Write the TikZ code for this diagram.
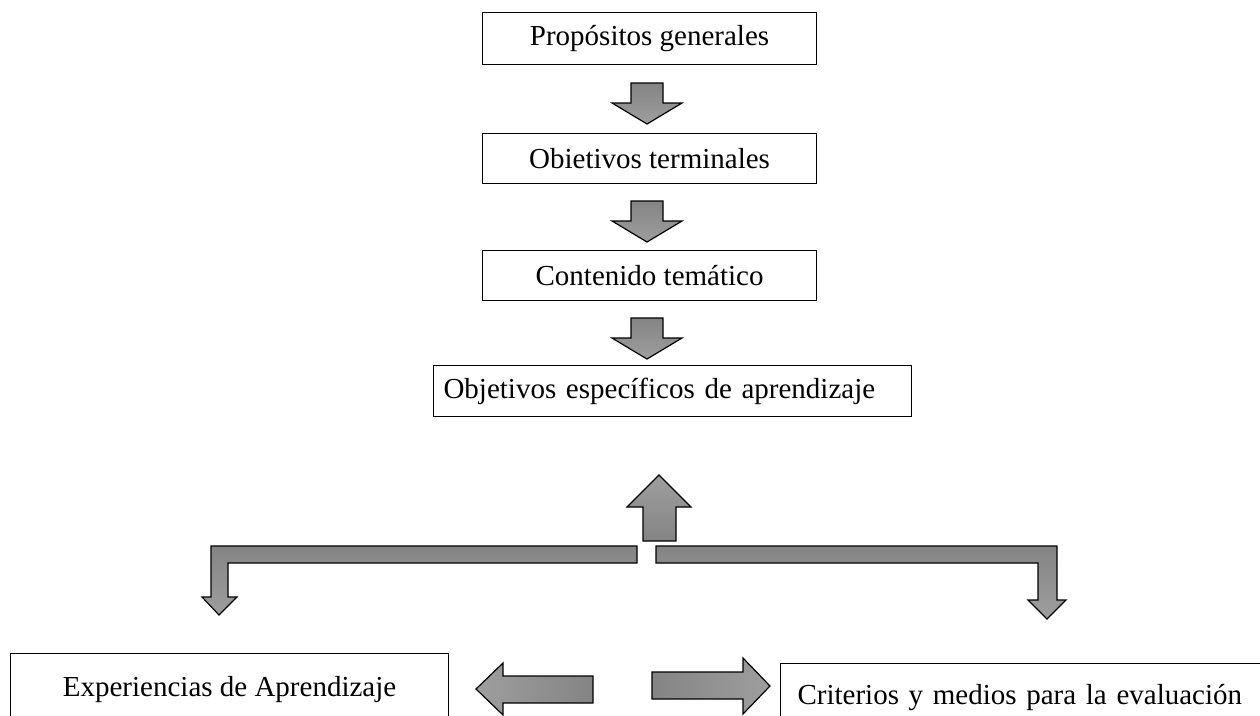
\documentclass[tikz,border=0pt]{standalone}
\usepackage{fontspec}
\setmainfont{Liberation Serif}
\definecolor{arrdark}{RGB}{132,132,132}
\definecolor{arrlight}{RGB}{158,158,158}
\begin{document}
\begin{tikzpicture}[x=1pt,y=-1pt,
  box/.style={draw=black, line width=1.1pt, fill=white, anchor=north west,
    font=\fontsize{29}{35}\selectfont, inner sep=0pt},
  blockarrow/.style={draw=black, line width=1.2pt, line join=miter},
  downshade/.style={blockarrow, top color=arrdark, bottom color=arrlight},
  upshade/.style={blockarrow, top color=arrlight, bottom color=arrdark},
  leftshade/.style={blockarrow, left color=arrlight, right color=arrdark},
  rightshade/.style={blockarrow, left color=arrdark, right color=arrlight}]
\useasboundingbox (0,0) rectangle (1260,715);
\clip (0,0) rectangle (1260,715);

% boxes
\node[box, minimum width=334, minimum height=52] (p1) at (482,12) {Propósitos generales};
\node[box, minimum width=334, minimum height=50] (p2) at (482,133) {Obietivos terminales};
\node[box, minimum width=334, minimum height=50] (p3) at (482,250) {Contenido temático};
\node[box, text width=458, align=left, inner xsep=10pt, minimum height=51] (p4) at (433,365) {Objetivos específicos de aprendizaje};
\node[box, minimum width=438, minimum height=72] (exp) at (10,653) {Experiencias de Aprendizaje};
\node[box, text width=480, align=left, inner xsep=17pt, minimum height=68] (crit) at (780,663) {Criterios y medios para la evaluación};

% down arrows between the top boxes
\foreach \t in {83,201,318}{
  \shadedraw[downshade] (631,\t) -- (663,\t) -- (663,\t+20) -- (682,\t+20) -- (647,\t+41)
     -- (612,\t+20) -- (631,\t+20) -- cycle;
}

% up arrow
\shadedraw[upshade] (659,475) -- (691,507) -- (676,507) -- (676,541) -- (643,541) -- (643,507) -- (627,507) -- cycle;

% left elbow arrow
\shadedraw[downshade] (637,546) -- (211,546) -- (211,597) -- (202,597) -- (219,615)
  -- (237,597) -- (228,597) -- (228,563) -- (637,563) -- cycle;
% right elbow arrow
\shadedraw[downshade] (656,546) -- (1057,546) -- (1057,600) -- (1066,600) -- (1047,619)
  -- (1028,600) -- (1038,600) -- (1038,563) -- (656,563) -- cycle;

% bottom left-pointing arrow
\shadedraw[leftshade] (476,689) -- (503,663) -- (503,676) -- (593,676) -- (593,703)
  -- (503,703) -- (503,715) -- cycle;
% bottom right-pointing arrow
\shadedraw[rightshade] (652,672) -- (743,672) -- (743,658) -- (770,686) -- (743,714)
  -- (743,699) -- (652,699) -- cycle;
\end{tikzpicture}
\end{document}
